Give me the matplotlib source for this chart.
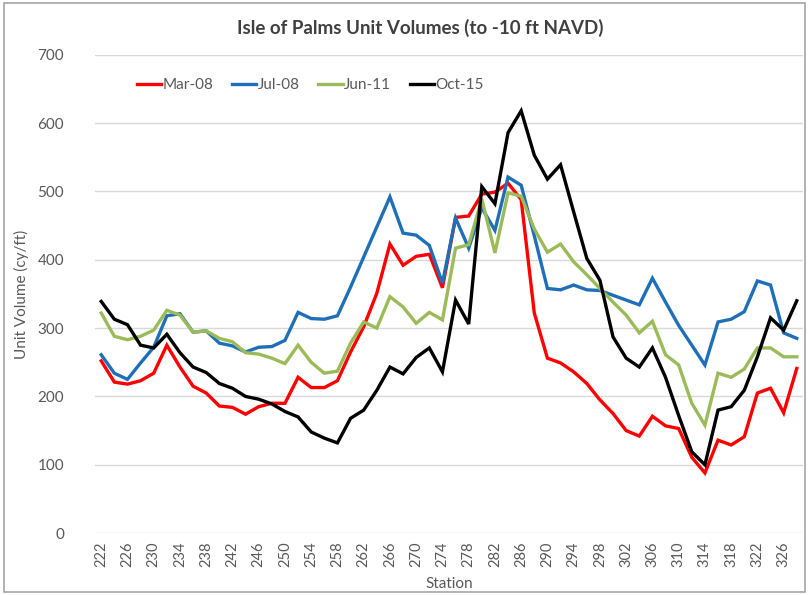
import matplotlib
matplotlib.use("Agg")
import matplotlib.pyplot as plt
import numpy as np

plt.rcParams['font.family'] = ['Lato', 'DejaVu Sans']

stations = list(range(222, 330, 2))

mar08 = [252, 221, 218, 223, 234, 275, 243, 215, 205, 186, 184, 174, 185, 190, 190, 228, 213, 213, 223, 265,
         302, 351, 423, 392, 405, 408, 359, 462, 464, 496, 499, 512, 488, 322, 256, 249, 236, 219, 195, 175,
         150, 142, 171, 157, 153, 111, 88, 136, 129, 141, 205, 212, 176, 241]
jul08 = [261, 234, 225, 249, 272, 318, 321, 294, 296, 278, 274, 265, 272, 273, 282, 323, 314, 313, 318, 360,
         404, 448, 492, 439, 436, 421, 366, 461, 417, 476, 443, 521, 509, 435, 358, 356, 363, 356, 355, 348,
         341, 334, 373, 338, 304, 275, 246, 309, 313, 324, 369, 363, 293, 285]
jun11 = [322, 288, 283, 288, 297, 326, 319, 294, 296, 285, 280, 264, 262, 256, 248, 275, 250, 234, 237, 278,
         309, 300, 346, 331, 307, 323, 312, 417, 422, 489, 410, 498, 493, 445, 411, 423, 397, 378, 358, 338,
         319, 293, 310, 261, 246, 190, 158, 234, 228, 240, 271, 271, 258, 258]
oct15 = [339, 313, 305, 275, 271, 291, 264, 243, 235, 219, 212, 200, 196, 189, 178, 170, 148, 139, 132, 168,
         180, 209, 243, 233, 257, 271, 236, 341, 306, 507, 482, 586, 618, 553, 518, 539, 470, 402, 370, 287,
         256, 243, 271, 228, 172, 119, 100, 180, 185, 209, 258, 315, 297, 340]

series = [("Mar-08", mar08, "#FF0000"),
          ("Jul-08", jul08, "#1F6FB8"),
          ("Jun-11", jun11, "#9BBB59"),
          ("Oct-15", oct15, "#000000")]

fig = plt.figure(figsize=(8.09, 5.95), dpi=100)
ax = fig.add_axes([0.117, 0.104, 0.876, 0.804])

for name, vals, col in series:
    ax.plot(stations, vals, color=col, lw=2.4, label=name, solid_joinstyle='miter')

ax.set_xlim(221, 329)
ax.set_ylim(0, 700)
ax.set_yticks(range(0, 701, 100))
ax.set_xticks(list(range(222, 327, 4)))
ax.tick_params(axis='x', labelrotation=90, length=0, labelsize=10.5, colors='#595959', pad=6)
ax.tick_params(axis='y', length=0, labelsize=11, colors='#595959', pad=22)
ax.grid(axis='y', color='#D9D9D9', lw=1)
ax.set_axisbelow(True)
for s in ax.spines.values():
    s.set_visible(False)

ax.set_xlabel("Station", fontsize=11, color='#595959', labelpad=7)
ax.set_ylabel("Unit Volume (cy/ft)", fontsize=11, color='#595959', labelpad=6)
fig.suptitle("Isle of Palms Unit Volumes (to -10 ft NAVD)", x=0.52, y=0.968,
             fontsize=13.5, fontweight='bold', color='#404040')

leg = ax.legend(loc='upper left', bbox_to_anchor=(0.04, 0.98), ncol=4, frameon=False,
                fontsize=11, handlelength=1.6, handletextpad=0.1, columnspacing=1.2)
for t in leg.get_texts():
    t.set_color('#595959')

border = plt.Rectangle((0.005, 0.005), 0.99, 0.99, transform=fig.transFigure,
                       fill=False, edgecolor='#A6A6A6', lw=1.2)
fig.patches.append(border)

fig.savefig("out.png", dpi=100)
